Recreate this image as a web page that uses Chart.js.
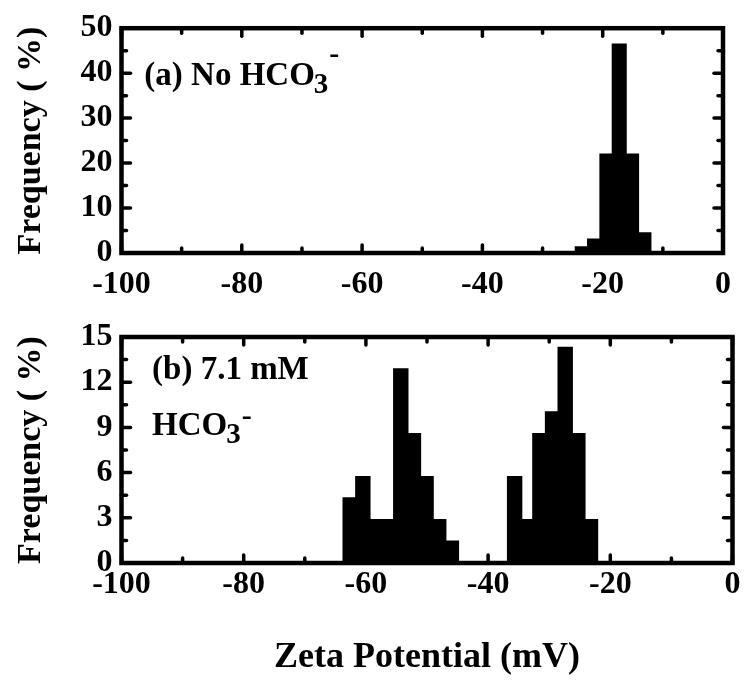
<!DOCTYPE html>
<html>
<head>
<meta charset="utf-8">
<script src="https://cdn.jsdelivr.net/npm/chart.js@4.4.0/dist/chart.umd.min.js"></script>
<style>
  html, body { margin: 0; padding: 0; background: #fff; }
  #wrap { position: relative; width: 744px; height: 680px; }
  #top { position: absolute; left: 0; top: 0; }
  #bottom { position: absolute; left: 0; top: 300px; }
</style>
</head>
<body>
<div id="wrap">
  <canvas id="top" width="744" height="320"></canvas>
  <canvas id="bottom" width="744" height="380"></canvas>
</div>
<script>
// bin centres (mV) and frequencies (%)
const topBins = [-23.4, -21.35, -19.3, -17.25, -15.2, -13.15]
const topFreq = [1.3, 3.0, 21.9, 46.4, 21.9, 4.4]

const bottomBins = [-62.57, -60.5, -58.43, -56.36, -54.29, -52.22, -50.15, -48.08, -46.01,
                    -35.66, -33.59, -31.52, -29.45, -27.38, -25.31, -23.24]
const bottomFreq = [4.29, 5.71, 2.86, 2.86, 12.86, 8.57, 5.71, 2.86, 1.43,
                    5.71, 2.86, 8.57, 10.0, 14.29, 8.57, 2.86]

const xMin = -100, xMax = 0, xStep = 20, xMinor = 10
const topMax = 50, topStep = 10, topMinor = 5
const bottomMax = 15, bottomStep = 3, bottomMinor = 1.5

const FONT = "'Liberation Serif', 'DejaVu Serif', serif"
Chart.defaults.font.family = FONT
Chart.defaults.font.weight = 'bold'
Chart.defaults.color = '#000'

// box round the plot with inward ticks on every side
const framePlugin = {
    id: 'frame',
    afterDraw(chart, args, opts) {
        const { ctx, chartArea: a, scales: { x, y } } = chart
        ctx.save()
        ctx.strokeStyle = '#000'
        ctx.lineCap = 'round'
        ctx.lineWidth = 3.5
        const seg = (x1, y1, x2, y2) => { ctx.beginPath(); ctx.moveTo(x1, y1); ctx.lineTo(x2, y2); ctx.stroke() }
        for (let v = xMin; v <= xMax; v += xMinor) {
            const px = x.getPixelForValue(v)
            const len = v % xStep === 0 ? 8 : 5
            seg(px, a.bottom, px, a.bottom - len)
            seg(px, a.top, px, a.top + len)
        }
        for (let i = 0; i * opts.minor <= y.max + 1e-6; i++) {
            const py = y.getPixelForValue(i * opts.minor)
            const len = i % 2 === 0 ? 9 : 5
            seg(a.left, py, a.left + len, py)
            seg(a.right, py, a.right - len, py)
        }
        ctx.lineCap = 'butt'
        ctx.lineWidth = 4.5
        ctx.strokeRect(a.left, a.top, a.right - a.left, a.bottom - a.top)
        ctx.restore()
    }
}

// panel captions with sub/superscripts
const notePlugin = {
    id: 'notes',
    afterDraw(chart, args, opts) {
        const { ctx, scales: { x, y } } = chart
        ctx.save()
        ctx.fillStyle = '#000'
        ctx.textBaseline = 'alphabetic'
        opts.lines.forEach(line => {
            let px = x.getPixelForValue(line.x)
            const py = y.getPixelForValue(line.y)
            line.parts.forEach(([text, size, dy, dx]) => {
                ctx.font = `bold ${size}px ${FONT}`
                px += dx || 0
                ctx.fillText(text, px, py + dy)
                px += ctx.measureText(text).width
            })
        })
        ctx.restore()
    }
}

function histogram(canvas, bins, freq, yMax, yStep, yMinor, pad, xHeight, notes, xTitle) {
    return new Chart(canvas, {
        type: 'bar',
        data: {
            datasets: [{
                data: bins.map((b, i) => ({ x: b, y: freq[i] })),
                backgroundColor: '#000',
                borderWidth: 0,
                inflateAmount: 1,
                barPercentage: 1.06,
                categoryPercentage: 1,
            }]
        },
        options: {
            responsive: false,
            animation: false,
            layout: { padding: { left: 0, right: 11.5, top: pad, bottom: 0 } },
            plugins: {
                legend: { display: false },
                tooltip: { enabled: false },
                frame: { minor: yMinor },
                notes: { lines: notes },
            },
            scales: {
                x: {
                    type: 'linear',
                    min: xMin,
                    max: xMax,
                    offset: false,
                    grid: { display: false, drawTicks: false },
                    border: { display: false },
                    ticks: { stepSize: xStep, padding: xTitle ? 3 : 13, font: { size: 32, weight: 'bold' } },
                    title: xTitle ? {
                        display: true, text: xTitle,
                        font: { size: 36, weight: 'bold' },
                        padding: { top: 0, bottom: 1 }
                    } : { display: false },
                    afterFit: s => { s.height = xHeight },
                },
                y: {
                    min: 0,
                    max: yMax,
                    grid: { display: false, drawTicks: false },
                    border: { display: false },
                    ticks: { stepSize: yStep, padding: 9, font: { size: 32, weight: 'bold' } },
                    title: {
                        display: true, text: 'Frequency ( %)',
                        font: { size: 34, weight: 'bold' },
                        padding: { top: 11, bottom: 0 }
                    },
                    afterFit: s => { s.width = 121.5 },
                }
            }
        },
        plugins: [framePlugin, notePlugin]
    })
}

histogram(document.getElementById('top'), topBins, topFreq, topMax, topStep, topMinor, 22, 67,
    [{ x: -96.2, y: 37.4, parts: [['(a) No HCO', 33, 0], ['3', 29, 8, -1], ['-', 30, -22, 1]] }])

histogram(document.getElementById('bottom'), bottomBins, bottomFreq, bottomMax, bottomStep, bottomMinor, 37, 117,
    [{ x: -95.0, y: 12.2, parts: [['(b) 7.1 mM', 33, 0]] },
     { x: -95.0, y: 8.5, parts: [['HCO', 33, 0], ['3', 29, 8, -1], ['-', 30, -10, 1]] }],
    'Zeta Potential (mV)')
</script>
</body>
</html>
